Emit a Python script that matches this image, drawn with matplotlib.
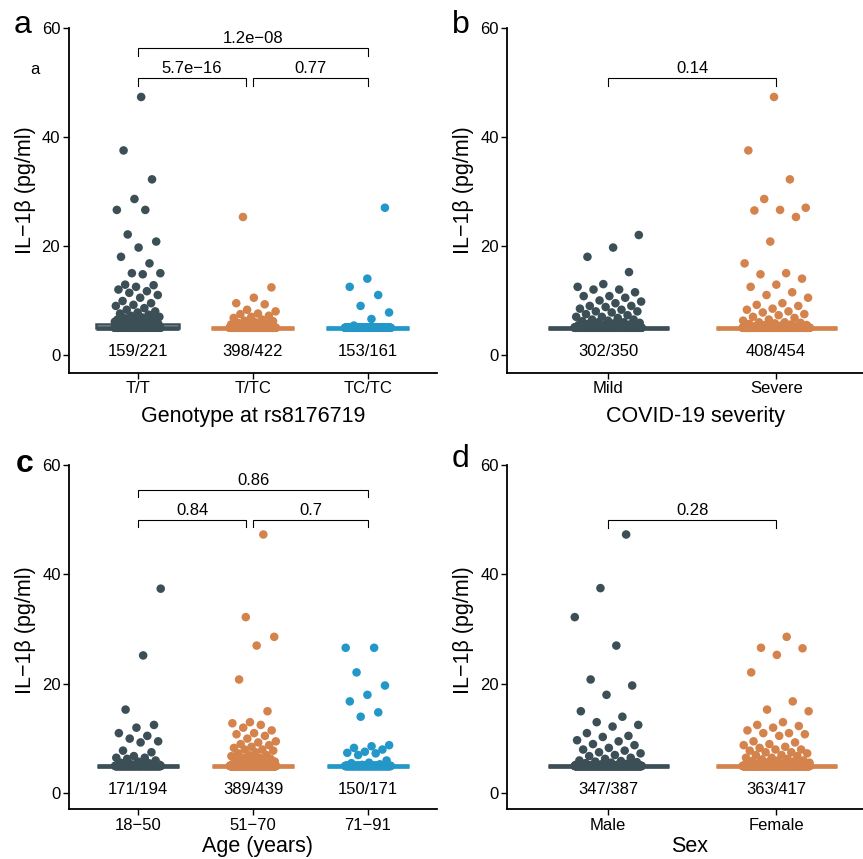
import numpy as np
import matplotlib
matplotlib.use("Agg")
import matplotlib.pyplot as plt

plt.rcParams['font.family'] = ['Liberation Sans', 'DejaVu Sans']

LOD = 5.0
C_DARK, C_ORANGE, C_BLUE = "#3c4f56", "#d4834d", "#2398c8"

# ---------------- data ----------------
geno_cats = ["T/T", "T/TC", "TC/TC"]
geno_below = [159, 398, 153]
geno_total = [221, 422, 161]
geno_tt = [47.3, 37.5, 32.2, 28.6, 26.6, 26.6, 22.1, 20.8, 19.7, 18.0, 16.8, 15.0, 15.0, 14.8,
           12.9, 12.8, 12.5, 12.0, 11.7, 11.4, 11.0, 10.5, 9.9, 9.5, 9.2, 9.0, 8.6, 8.3, 8.0,
           7.8, 7.6, 7.4, 7.2, 7.0, 6.9, 6.8, 6.7, 6.6, 6.5, 6.4, 6.3, 6.3, 6.2, 6.2, 6.1,
           6.1, 6.1, 6.0, 6.0, 6.0, 5.9, 5.9, 5.8, 5.8, 5.7, 5.6, 5.5, 5.4, 5.3, 5.2, 5.2, 5.1]
geno_ttc = [25.3, 12.4, 10.5, 9.5, 9.3, 8.3, 8.0, 7.6, 7.5, 7.2, 7.0, 6.8, 6.5, 6.3, 6.2,
            6.0, 5.9, 5.8, 5.7, 5.6, 5.5, 5.4, 5.3, 5.2]
geno_tctc = [27.0, 14.0, 12.5, 11.0, 9.0, 7.8, 6.6, 5.4]

sev_cats = ["Mild", "Severe"]
sev_below = [302, 408]
sev_total = [350, 454]
sev_mild = [22.0, 19.7, 18.0, 15.2, 13.0, 12.5, 12.0, 12.0, 11.5, 10.8, 10.8, 10.5, 10.0, 9.8,
            9.5, 9.0, 9.0, 8.8, 8.5, 8.3, 8.0, 8.0, 7.8, 7.5, 7.3, 7.0, 7.0, 6.8, 6.5, 6.5,
            6.3, 6.2, 6.0, 6.0, 5.9, 5.8, 5.7, 5.6, 5.5, 5.5, 5.4, 5.3, 5.3, 5.2, 5.2, 5.1, 5.1, 5.1]
sev_severe = [47.3, 37.5, 32.2, 28.6, 27.0, 26.6, 26.5, 25.3, 20.8, 16.8, 15.0, 14.8, 14.0, 12.9,
              12.5, 11.5, 11.0, 10.5, 9.5, 9.2, 9.0, 8.5, 8.3, 8.0, 7.8, 7.5, 7.3, 7.0, 6.8,
              6.5, 6.3, 6.0, 6.0, 5.9, 5.8, 5.7, 5.6, 5.5, 5.5, 5.4, 5.3, 5.3, 5.2, 5.2, 5.1, 5.1]

age_cats = ["18\u221250", "51\u221270", "71\u221291"]
age_below = [171, 389, 150]
age_total = [194, 439, 171]
age_1850 = [37.4, 25.2, 15.3, 12.5, 12.0, 11.0, 10.5, 10.0, 9.5, 9.3, 7.8, 7.5, 6.8, 6.5, 6.5,
            6.3, 6.0, 5.8, 5.6, 5.5, 5.3, 5.2, 5.1]
age_5170 = [47.3, 32.2, 28.6, 27.0, 20.8, 15.0, 13.0, 12.8, 12.5, 12.0, 11.5, 11.0, 10.8, 10.5,
            10.0, 9.5, 9.3, 9.0, 8.8, 8.5, 8.3, 8.0, 8.0, 7.8, 7.5, 7.3, 7.0, 7.0, 6.8, 6.5,
            6.5, 6.3, 6.2, 6.0, 6.0, 5.9, 5.8, 5.7, 5.6, 5.5, 5.5, 5.4, 5.3, 5.3, 5.2, 5.2,
            5.1, 5.1, 5.1, 5.1]
age_7191 = [26.6, 26.6, 22.1, 19.7, 18.0, 16.8, 14.8, 14.0, 8.8, 8.6, 8.3, 8.0, 7.6, 7.4, 7.3,
            7.0, 6.0, 5.6, 5.5, 5.3, 5.2]

sex_cats = ["Male", "Female"]
sex_below = [347, 363]
sex_total = [387, 417]
sex_male = [47.3, 37.5, 32.2, 27.0, 20.8, 19.7, 18.0, 15.0, 14.0, 13.0, 12.5, 12.2, 11.0, 10.5,
            10.3, 9.7, 9.5, 9.0, 8.8, 8.3, 8.0, 7.8, 7.5, 7.3, 7.0, 6.8, 6.5, 6.3, 6.0, 5.9,
            5.8, 5.7, 5.6, 5.5, 5.4, 5.3, 5.2, 5.2, 5.1, 5.1]
sex_female = [28.6, 26.6, 26.5, 25.3, 22.1, 16.8, 15.3, 15.0, 13.0, 12.5, 12.3, 12.0, 11.5, 11.0,
              11.0, 10.8, 10.5, 9.5, 9.3, 9.0, 8.8, 8.5, 8.3, 8.0, 8.0, 7.8, 7.5, 7.5, 7.3,
              7.0, 7.0, 6.8, 6.5, 6.5, 6.3, 6.2, 6.0, 6.0, 5.9, 5.8, 5.7, 5.6, 5.5, 5.5, 5.4,
              5.3, 5.3, 5.2, 5.2, 5.1, 5.1, 5.1, 5.1, 5.1]

geno_p = ["5.7e\u221216", "0.77", "1.2e\u221208"]
sev_p = ["0.14"]
age_p = ["0.84", "0.7", "0.86"]
sex_p = ["0.28"]

# ---------------- figure ----------------
W, H = 863, 859
fig = plt.figure(figsize=(W / 100, H / 100), dpi=100)

FS_SMALL = 12
FS_TITLE = 15.5


def ax_px(left, top, right, bottom):
    return fig.add_axes([left / W, 1 - bottom / H, (right - left) / W, (bottom - top) / H])


def jitter(n, width=0.2):
    k = np.arange(n)
    return width * (2 * ((k * 0.6180339887 + 0.31) % 1.0) - 1)


def panel(ax, cats, below, total, above_lists, colors, ylo, xlabel):
    ncat = len(cats)
    for i, (b, t, vals, col) in enumerate(zip(below, total, above_lists, colors)):
        pos = i + 1
        data = np.concatenate([np.full(b, LOD), np.array(vals, float)])
        ax.boxplot(data, positions=[pos], widths=0.72, showfliers=False, whis=1.5,
                   patch_artist=True, manage_ticks=False,
                   boxprops=dict(facecolor="white", edgecolor=col, linewidth=1.8),
                   medianprops=dict(color=col, linewidth=3.4, solid_capstyle="butt"),
                   whiskerprops=dict(color=col, linewidth=1.8),
                   capprops=dict(linewidth=0), zorder=2)
        xs = pos + jitter(len(data))
        ax.scatter(xs, data, s=38, color=col, edgecolors="none", zorder=3)
        ax.text(pos, 0.7, f"{b}/{t}", ha="center", va="center", fontsize=FS_SMALL)
    ax.set_xlim(0.4, ncat + 0.6)
    ax.set_ylim(ylo, 60)
    ax.set_xticks(range(1, ncat + 1))
    ax.set_xticklabels(cats)
    ax.set_yticks([0, 20, 40, 60])
    for s in ["top", "right"]:
        ax.spines[s].set_visible(False)
    for s in ["left", "bottom"]:
        ax.spines[s].set_linewidth(1.3)
    ax.tick_params(direction="out", length=4, width=1.0, labelsize=FS_SMALL, pad=2, colors="black")
    ax.set_ylabel("IL\u22121\u03b2 (pg/ml)", fontsize=FS_TITLE, va="center")
    ax.set_xlabel(xlabel, fontsize=FS_TITLE, va="center")


def bracket(ax, x1, x2, y, label, drop=1.4, dy=1.7):
    ax.plot([x1, x1, x2, x2], [y - drop, y, y, y - drop], color="black", lw=0.8,
            solid_joinstyle="miter", zorder=4)
    ax.text((x1 + x2) / 2, y + dy, label, ha="center", va="center", fontsize=FS_SMALL)


def set_label_px(ax, box, xl, yl):
    left, top, right, bottom = box
    ax.xaxis.set_label_coords((xl[0] - left) / (right - left), (bottom - xl[1]) / (bottom - top))
    ax.yaxis.set_label_coords((yl[0] - left) / (right - left), (bottom - yl[1]) / (bottom - top))


# Panel a
box_a = (68.5, 27.7, 437, 372.7)
ax_a = ax_px(*box_a)
panel(ax_a, geno_cats, geno_below, geno_total, [geno_tt, geno_ttc, geno_tctc],
      [C_DARK, C_ORANGE, C_BLUE], -3.24, "Genotype at rs8176719")
bracket(ax_a, 1, 1.94, 50.8, geno_p[0])
bracket(ax_a, 2, 3, 50.8, geno_p[1])
bracket(ax_a, 1, 3, 56.3, geno_p[2])
set_label_px(ax_a, box_a, (253, 416), (25, 190))

# Panel b
box_b = (507.3, 27.7, 877, 372.7)
ax_b = ax_px(*box_b)
panel(ax_b, sev_cats, sev_below, sev_total, [sev_mild, sev_severe],
      [C_DARK, C_ORANGE], -3.24, "COVID-19 severity")
bracket(ax_b, 1, 2, 50.8, sev_p[0])
set_label_px(ax_b, box_b, (695, 416.7), (463, 190))

# Panel c
box_c = (69, 465, 437, 809.3)
ax_c = ax_px(*box_c)
panel(ax_c, age_cats, age_below, age_total, [age_1850, age_5170, age_7191],
      [C_DARK, C_ORANGE, C_BLUE], -2.92, "Age (years)")
bracket(ax_c, 1, 1.94, 50.0, age_p[0])
bracket(ax_c, 2, 3, 50.0, age_p[1])
bracket(ax_c, 1, 3, 55.5, age_p[2])
set_label_px(ax_c, box_c, (257, 846.7), (25, 630))

# Panel d
box_d = (507.3, 465, 877, 809.3)
ax_d = ax_px(*box_d)
panel(ax_d, sex_cats, sex_below, sex_total, [sex_male, sex_female],
      [C_DARK, C_ORANGE], -2.92, "Sex")
bracket(ax_d, 1, 2, 49.9, sex_p[0])
set_label_px(ax_d, box_d, (690, 846.7), (463, 630))

# Panel letters
fig.text(14 / W, 1 - 33 / H, "a", fontsize=23, ha="left", va="baseline")
fig.text(452 / W, 1 - 33 / H, "b", fontsize=23, ha="left", va="baseline")
fig.text(16 / W, 1 - 472 / H, "c", fontsize=23, fontweight="bold", ha="left", va="baseline")
fig.text(452 / W, 1 - 467 / H, "d", fontsize=23, ha="left", va="baseline")
fig.text(35 / W, 1 - 70 / H, "a", fontsize=12, ha="center", va="center")

fig.savefig("out.png", dpi=100)
